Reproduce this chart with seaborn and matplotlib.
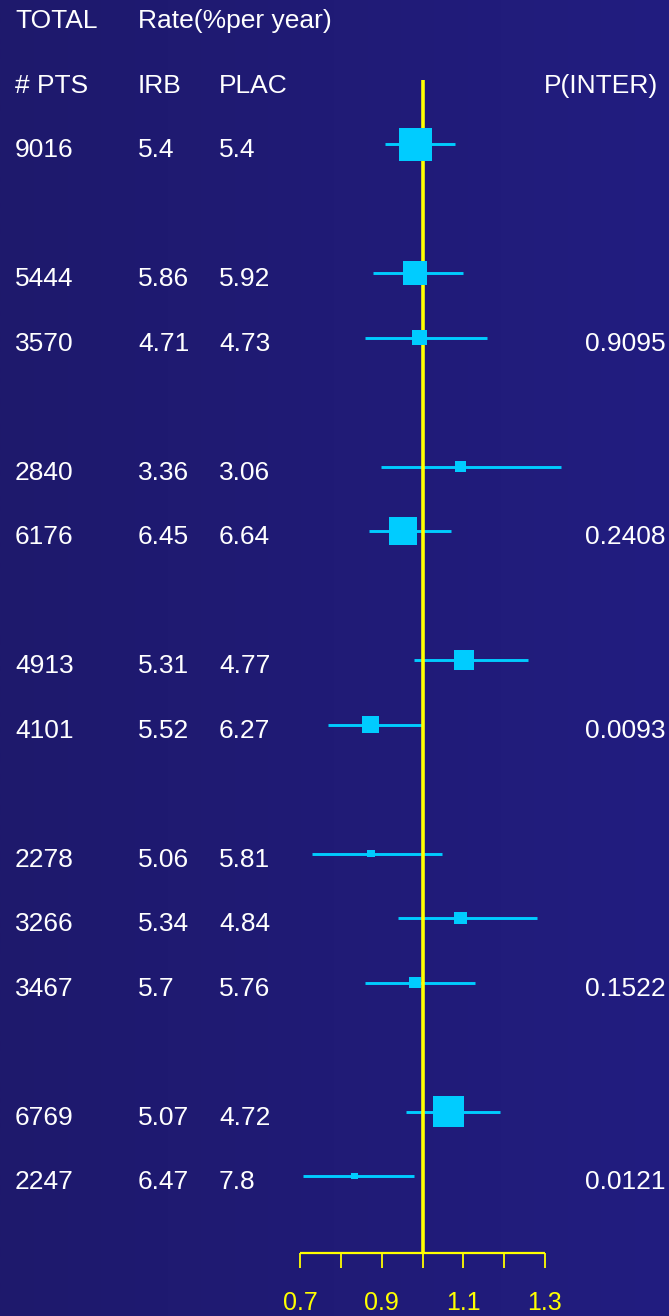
import numpy as np
import pandas as pd
import matplotlib
matplotlib.use("Agg")
import matplotlib.pyplot as plt
import matplotlib.transforms as mtransforms
import seaborn as sns

# Subgroup rows: patients, event rates (%/year), hazard ratio with 95% CI
slots = [0, 2, 3, 5, 6, 8, 9, 11, 12, 13, 15, 16]
pts = ["9016", "5444", "3570", "2840", "6176", "4913", "4101",
       "2278", "3266", "3467", "6769", "2247"]
irb = ["5.4", "5.86", "4.71", "3.36", "6.45", "5.31", "5.52",
       "5.06", "5.34", "5.7", "5.07", "6.47"]
plac = ["5.4", "5.92", "4.73", "3.06", "6.64", "4.77", "6.27",
        "5.81", "4.84", "5.76", "4.72", "7.8"]
hr = [0.983, 0.982, 0.993, 1.093, 0.952, 1.102, 0.873,
      0.874, 1.093, 0.982, 1.064, 0.833]
ci_lo = [0.908, 0.879, 0.859, 0.899, 0.869, 0.979, 0.768,
         0.729, 0.940, 0.859, 0.959, 0.708]
ci_hi = [1.080, 1.099, 1.159, 1.339, 1.069, 1.259, 0.999,
         1.049, 1.280, 1.129, 1.190, 0.979]
# relative box width (study weight)
weight = [1.00, 0.73, 0.45, 0.33, 0.85, 0.61, 0.52,
          0.24, 0.38, 0.36, 0.94, 0.21]

p_slots = [3, 6, 9, 13, 16]
p_inter = ["0.9095", "0.2408", "0.0093", "0.1522", "0.0121"]

tick_vals = [0.7, 0.8, 0.9, 1.0, 1.1, 1.2, 1.3]
tick_labels = {0.7: "0.7", 0.9: "0.9", 1.1: "1.1", 1.3: "1.3"}

W, H, DPI = 669, 1316, 100
FONT = "Liberation Sans"
CYAN = "#00ccff"
YELLOW = "#ffff00"

sns.set_theme(style="white")
plt.rcParams["font.family"] = [FONT, "DejaVu Sans"]

fig = plt.figure(figsize=(W / DPI, H / DPI), dpi=DPI)

# navy backdrop with a faint left-to-right gradient
bg = fig.add_axes([0, 0, 1, 1])
grad = np.linspace(0, 1, 256)
c0 = np.array([30, 25, 108]) / 255
c1 = np.array([34, 29, 128]) / 255
img = (c0[None, :] + (c1 - c0)[None, :] * grad[:, None])[None, :, :]
bg.imshow(img, aspect="auto", extent=[0, 1, 0, 1])
bg.set_axis_off()

ax = fig.add_axes([0, 0, 1, 1])
ax.patch.set_alpha(0)
px_per_unit = 408.0
x_ref = 422.5
ax.set_xlim(1 - x_ref / px_per_unit, 1 + (W - x_ref) / px_per_unit)
row_px, row0 = 64.5, 144.0
ax.set_ylim((H - row0) / row_px, -row0 / row_px)
ax.set_axis_off()

df = pd.DataFrame({"slot": slots, "hr": hr, "lo": ci_lo, "hi": ci_hi,
                   "w": weight})
box_max_pt = 33 * 72 / DPI
df["area"] = (df["w"] * box_max_pt) ** 2

# confidence intervals
ax.hlines(df["slot"], df["lo"], df["hi"], color=CYAN, lw=2.1, zorder=2)

# line of no effect and the bottom scale
axis_slot = 17.19
ax.vlines(1.0, -1.0, axis_slot, color=YELLOW, lw=2.6, zorder=3)
ax.hlines(axis_slot, tick_vals[0], tick_vals[-1], color=YELLOW, lw=1.6, zorder=3)
ax.vlines(tick_vals, axis_slot, axis_slot + 0.24, color=YELLOW, lw=1.3, zorder=3)
for t in tick_vals:
    if t in tick_labels:
        ax.text(t, 17.97, tick_labels[t], color=YELLOW, fontsize=18,
                ha="center", va="center", family=FONT)

# point estimates as weighted squares
sns.scatterplot(data=df, x="hr", y="slot", size="area",
                sizes=(df["area"].min(), df["area"].max()),
                size_norm=(df["area"].min(), df["area"].max()),
                marker="s", color=CYAN, linewidth=0, legend=False,
                ax=ax, zorder=4)

# text columns
tr = mtransforms.blended_transform_factory(ax.transAxes, ax.transData)
txt = dict(color="white", fontsize=19, va="center", family=FONT, transform=tr)
dy = 0.1
ax.text(15 / W, -2 + dy, "TOTAL", ha="left", **txt)
ax.text(138 / W, -2 + dy, "Rate(%per year)", ha="left", **txt)
ax.text(15 / W, -1 + dy, "# PTS", ha="left", **txt)
ax.text(138 / W, -1 + dy, "IRB", ha="left", **txt)
ax.text(219 / W, -1 + dy, "PLAC", ha="left", **txt)
ax.text(658 / W, -1 + dy, "P(INTER)", ha="right", **txt)
for s, n, a, b in zip(slots, pts, irb, plac):
    ax.text(15 / W, s + dy, n, ha="left", **txt)
    ax.text(138 / W, s + dy, a, ha="left", **txt)
    ax.text(219 / W, s + dy, b, ha="left", **txt)
for s, p in zip(p_slots, p_inter):
    ax.text(585 / W, s + dy, p, ha="left", **txt)

fig.savefig("out.png", dpi=DPI)
